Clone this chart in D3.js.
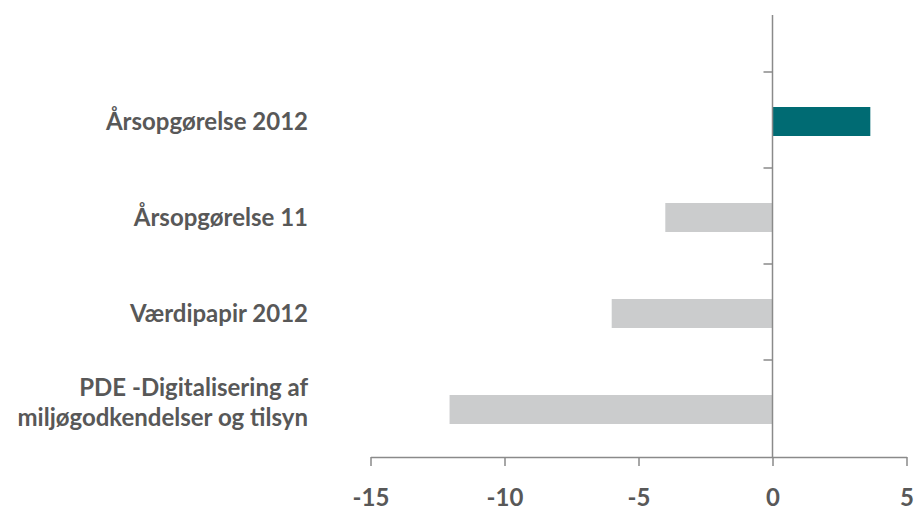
<!DOCTYPE html>
<html><head><meta charset="utf-8">
<script src="https://cdn.jsdelivr.net/npm/d3@7"></script>
<style>body{margin:0;background:#fff}svg{display:block}</style>
</head><body>
<svg id="c" width="914" height="508"></svg>
<script>
const categories = ["Årsopgørelse 2012", "Årsopgørelse 11", "Værdipapir 2012", "PDE -Digitalisering af\nmiljøgodkendelser og tilsyn"];
const values = [3.65, -4.0, -6.0, -12.05];
const barColors = ["#006b73", "#cbcccd", "#cbcccd", "#cbcccd"];
const xTicks = [-15, -10, -5, 0, 5];

const svg = d3.select("#c");
const font = "Lato, 'Open Sans', sans-serif";
const axisColor = "#8a8a8a";
const textColor = "#585858";

const x = d3.scaleLinear().domain([-15, 5]).range([370.5, 906.5]);
const y = d3.scaleBand().domain(categories).range([72, 456]).padding(0);
const bw = y.bandwidth();
const bh = 29;

// bars
svg.selectAll("rect.bar").data(categories).join("rect")
  .attr("x", (d, i) => x(Math.min(0, values[i])))
  .attr("width", (d, i) => Math.abs(x(values[i]) - x(0)))
  .attr("y", d => y(d) + (bw - bh) / 2 + 1.5)
  .attr("height", bh)
  .attr("fill", (d, i) => barColors[i]);

// x axis
const xAxisY = 457;
const gx = svg.append("g").attr("transform", `translate(0,${xAxisY})`)
  .call(d3.axisBottom(x).tickValues(xTicks).tickSize(9).tickSizeOuter(0).tickFormat(d3.format("d")));
gx.select(".domain").attr("stroke", axisColor).attr("stroke-width", 1.5);
gx.selectAll(".tick line").attr("stroke", axisColor).attr("stroke-width", 1.5);
gx.selectAll(".tick text").attr("fill", textColor).attr("font-family", font)
  .attr("font-weight", "bold").attr("font-size", 24).attr("dy", 0).attr("y", 49)
  .text(d => d < 0 ? "-" + Math.abs(d) : d);

// y axis line at 0
const x0 = x(0);
svg.append("line").attr("x1", x0).attr("x2", x0).attr("y1", 15).attr("y2", xAxisY)
  .attr("stroke", axisColor).attr("stroke-width", 1.5);
// band boundary ticks
const bounds = categories.map(c => y(c));
svg.selectAll("line.yt").data(bounds).join("line")
  .attr("x1", x0 - 9).attr("x2", x0).attr("y1", d => d).attr("y2", d => d)
  .attr("stroke", axisColor).attr("stroke-width", 1.5);

// category labels
const lbl = svg.selectAll("text.cat").data(categories).join("text")
  .attr("text-anchor", "end").attr("font-family", font).attr("font-weight", "bold")
  .attr("font-size", 24).attr("fill", textColor);
lbl.each(function(d) {
  const lines = d.split("\n");
  const cy = y(d) + bw / 2 + 1.5;
  const t = d3.select(this);
  const offs = lines.length === 1 ? [8] : [-14, 16];
  lines.forEach((ln, k) => {
    t.append("tspan").attr("x", 308).attr("y", cy + offs[k]).text(ln);
  });
});
</script>
</body></html>
